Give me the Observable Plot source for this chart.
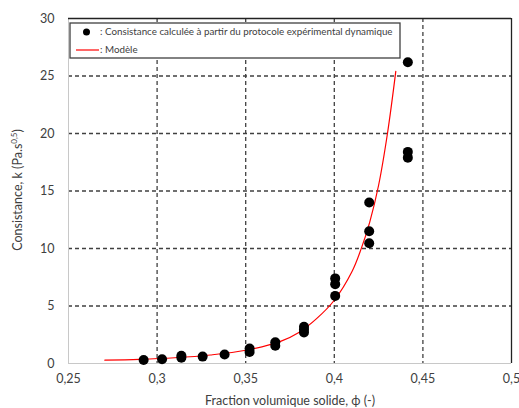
<!DOCTYPE html>
<html>
<head>
<meta charset="utf-8">
<script src="https://cdn.jsdelivr.net/npm/d3@7"></script>
<script src="https://cdn.jsdelivr.net/npm/@observablehq/plot@0.6"></script>
<style>
  html, body { margin: 0; padding: 0; background: #fff; }
  #chart svg { display: block; }
</style>
</head>
<body>
<div id="chart"></div>
<script>
// Experimental points (solid volume fraction, consistency k)
const phiExp = [0.2924, 0.3028, 0.3137, 0.3137, 0.3257, 0.3381, 0.3522, 0.3522, 0.3667, 0.3667,
                0.3829, 0.3829, 0.3829, 0.4005, 0.4005, 0.4005, 0.4197, 0.4197, 0.4197, 0.4415, 0.4415, 0.4415];
const kExp   = [0.30, 0.37, 0.50, 0.68, 0.60, 0.78, 1.00, 1.30, 1.55, 1.85,
                2.70, 2.95, 3.20, 5.88, 6.90, 7.40, 10.45, 11.50, 14.00, 26.20, 18.40, 17.90];

// Model curve
const phiModel = [0.2705, 0.29, 0.31, 0.33, 0.35, 0.37, 0.38, 0.39, 0.40, 0.41, 0.415, 0.42, 0.425, 0.43, 0.4347];
const kModel   = [0.29, 0.36, 0.50, 0.74, 1.15, 1.95, 2.70, 3.90, 5.50, 8.00, 9.90, 12.30, 15.50, 20.00, 25.40];

const xTicks = [0.25, 0.3, 0.35, 0.4, 0.45, 0.5];
const yTicks = [0, 5, 10, 15, 20, 25, 30];

const legendLabels = [": Consistance calculée à partir du protocole expérimental dynamique", ": Modèle"];
const xLabel = "Fraction volumique solide, \u03D5 (-)";

const expData = phiExp.map((p, i) => ({phi: p, k: kExp[i]}));
const modelData = phiModel.map((p, i) => ({phi: p, k: kModel[i]}));

const fmt = d => String(+d.toFixed(2)).replace(".", ",");
const font = "Lato, 'Open Sans', sans-serif";
const gridDash = "4,3";

const plot = Plot.plot({
  width: 519,
  height: 408,
  marginLeft: 68,
  marginRight: 8,
  marginTop: 18,
  marginBottom: 45,
  style: {fontFamily: font, fontSize: "12.5px", color: "#404040", background: "#fff"},
  x: {domain: [0.25, 0.5], ticks: xTicks, tickFormat: fmt, label: null},
  y: {domain: [0, 30], ticks: yTicks, label: null},
  marks: [
    Plot.gridX(xTicks.slice(1, -1), {stroke: "#404040", strokeOpacity: 1, strokeWidth: 1.3, strokeDasharray: gridDash}),
    Plot.gridY(yTicks.slice(1, -1), {stroke: "#404040", strokeOpacity: 1, strokeWidth: 1.3, strokeDasharray: gridDash}),
    Plot.ruleX([0.25], {stroke: "#c8c8c8", strokeWidth: 1}),
    Plot.ruleY([0], {stroke: "#c8c8c8", strokeWidth: 1}),
    Plot.ruleX([0.5], {stroke: "#222", strokeWidth: 1.3}),
    Plot.ruleY([30], {stroke: "#222", strokeWidth: 1.3}),
    Plot.axisX({ticks: xTicks, tickFormat: fmt, tickSize: 0, tickPadding: 11, label: null, fontSize: 12.5, fill: "#404040"}),
    Plot.axisY({ticks: yTicks, tickSize: 0, tickPadding: 14, label: null, fontSize: 12.5, fill: "#404040"}),
    Plot.line(modelData, {x: "phi", y: "k", stroke: "#ff0000", strokeWidth: 1.2, curve: "catmull-rom"}),
    Plot.dot(expData, {x: "phi", y: "k", r: 5, fill: "#000", stroke: "none"})
  ]
});

document.getElementById("chart").appendChild(plot);

const svg = d3.select(plot);

// X axis title
svg.append("text")
  .attr("x", 290).attr("y", 401).attr("dy", "0.35em")
  .attr("text-anchor", "middle")
  .attr("font-family", font).attr("font-size", 12.5).attr("fill", "#404040")
  .text(xLabel);

// Y axis title with superscript
const yt = svg.append("text")
  .attr("transform", "translate(18,190) rotate(-90)")
  .attr("text-anchor", "middle").attr("dy", "0.35em")
  .attr("font-family", font).attr("font-size", 12.5).attr("fill", "#404040");
yt.append("tspan").text("Consistance, k (Pa.s");
yt.append("tspan").attr("dy", -5).attr("font-size", 8).text("0,5");
yt.append("tspan").attr("dy", 5).text(")");

// Legend
const lg = svg.append("g");
lg.append("rect")
  .attr("x", 70).attr("y", 23).attr("width", 330).attr("height", 35)
  .attr("fill", "#fff").attr("stroke", "#404040").attr("stroke-width", 1.3);
lg.append("circle").attr("cx", 86.5).attr("cy", 32).attr("r", 3.5).attr("fill", "#000");
lg.append("line").attr("x1", 76).attr("x2", 99).attr("y1", 50).attr("y2", 50)
  .attr("stroke", "#ff0000").attr("stroke-width", 1.2);
legendLabels.forEach((t, i) => {
  lg.append("text")
    .attr("x", 100).attr("y", 32 + i * 18).attr("dy", "0.35em")
    .attr("text-anchor", "start")
    .attr("font-family", font).attr("font-size", 9.8).attr("fill", "#404040")
    .text(t);
});
</script>
</body>
</html>
